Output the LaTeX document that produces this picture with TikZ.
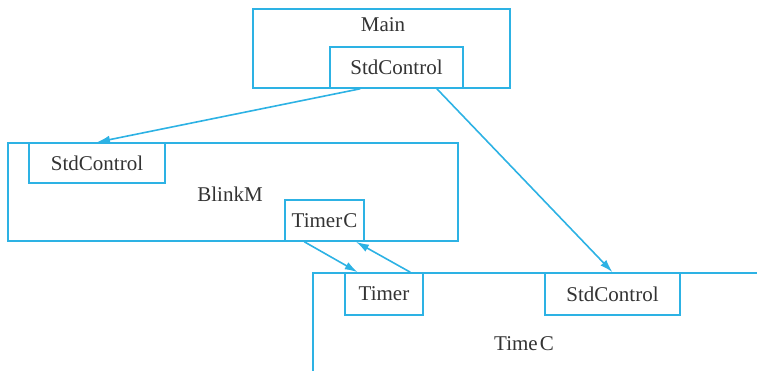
\documentclass[tikz,border=0pt]{standalone}
\usepackage{fontspec}
\setmainfont{Liberation Serif}
\usetikzlibrary{calc}
\usetikzlibrary{arrows.meta}

\definecolor{wire}{RGB}{45,178,228}

\tikzset{
  box/.style={draw=wire, line width=1.6pt, inner sep=0pt, fill=white},
  lbl/.style={font=\fontsize{21}{25}\selectfont, text=black!80, inner sep=1pt},
  link/.style={draw=wire, line width=1.6pt, -{Latex[length=13pt,width=8pt]}}
}

\begin{document}
\begin{tikzpicture}[x=1pt,y=-1pt]
\useasboundingbox (0,0) rectangle (757,371);
\clip (0,0) rectangle (757,371);

% components
\node[box, minimum width=257pt, minimum height=79pt] (main) at (381.5,48.5) {};
\node[box, minimum width=450pt, minimum height=98pt] (blink) at (233,192) {};
\node[box, minimum width=470pt, minimum height=130pt] (time) at (548,338) {};

% interfaces
\node[box, minimum width=133pt, minimum height=41pt] (mainctl) at (396.5,67.5) {};
\node[box, minimum width=136pt, minimum height=40pt] (blinkctl) at (97,163) {};
\node[box, minimum width=79pt, minimum height=41pt] (timerc) at (324.5,220.5) {};
\node[box, minimum width=78pt, minimum height=42pt] (timer) at (384,294) {};
\node[box, minimum width=135pt, minimum height=42pt] (timectl) at (612.5,294) {};

% names
\node[lbl] (mainname) at (383,25) {Main};
\node[lbl] (blinkname) at (230,194) {BlinkM};
\node[lbl] (timename) at (524,344) {Time\kern2ptC};
\node[lbl] at (mainctl) {StdControl};
\node[lbl] at (blinkctl) {StdControl};
\node[lbl] at (timerc) {Timer\kern1ptC};
\node[lbl] at (timer) {Timer};
\node[lbl] at (timectl) {StdControl};

% wiring
\draw[link] ($(mainctl.south west)!0.23!(mainctl.south east)$) -- (blinkctl.north);
\draw[link] ($(mainctl.south west)!0.80!(mainctl.south east)$) -- (timectl.north);
\draw[link] ($(timerc.south west)!0.25!(timerc.south east)$) -- ($(timer.north west)!0.17!(timer.north east)$);
\draw[link] ($(timer.north west)!0.83!(timer.north east)$) -- ($(timerc.south west)!0.89!(timerc.south east)$);

\end{tikzpicture}
\end{document}
